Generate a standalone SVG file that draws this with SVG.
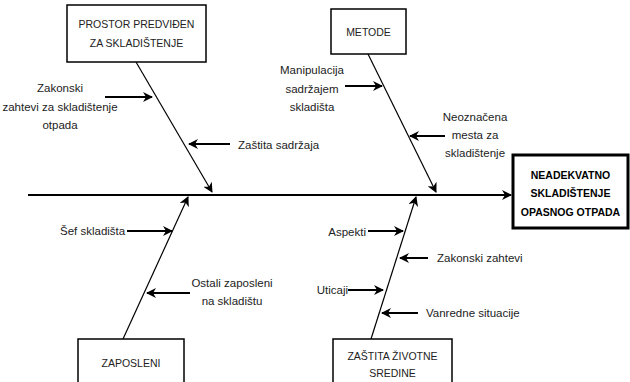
<svg xmlns="http://www.w3.org/2000/svg" width="630" height="382" viewBox="0 0 630 382">
  <style>
    .box { fill: #fff; stroke: #000; stroke-width: 1.5; }
    .effect { fill: #fff; stroke: #000; stroke-width: 3; }
    .t { font-family: "Liberation Sans", Arial, sans-serif; font-size: 11.5px; fill: #222; }
    .bt { font-family: "Liberation Sans", Arial, sans-serif; font-size: 10.5px; fill: #222; }
    .et { font-family: "Liberation Sans", Arial, sans-serif; font-size: 10.5px; font-weight: bold; fill: #000; }
    .mid { text-anchor: middle; }
    .spine { stroke: #000; stroke-width: 2; fill: none; }
    .bone { stroke: #000; stroke-width: 1.2; fill: none; }
    .cause { stroke: #000; stroke-width: 2; fill: none; }
  </style>
  <defs>
    <marker id="head" viewBox="0 0 10 10" refX="9" refY="5" markerWidth="10" markerHeight="10" markerUnits="userSpaceOnUse" orient="auto">
      <path d="M0,0 L10,5 L0,10 L3,5 z" fill="#000"/>
    </marker>
    <marker id="headS" viewBox="0 0 10 10" refX="9" refY="5" markerWidth="10" markerHeight="10" markerUnits="userSpaceOnUse" orient="auto">
      <path d="M0,0 L10,5 L0,10 L3,5 z" fill="#000"/>
    </marker>
  </defs>

  <rect width="630" height="382" fill="#fff"/>

  <!-- connectors: spine, main bones and cause arrows -->
  <g id="connectors">
    <line class="spine" x1="28" y1="195" x2="511" y2="195" marker-end="url(#head)"/>
    <line class="bone" x1="136" y1="62" x2="212" y2="192" marker-end="url(#head)"/>
    <line class="bone" x1="368" y1="54" x2="436" y2="192" marker-end="url(#head)"/>
    <line class="bone" x1="123" y1="339" x2="188" y2="197" marker-end="url(#head)"/>
    <line class="bone" x1="371" y1="339" x2="416" y2="197" marker-end="url(#head)"/>

    <line class="cause" x1="105" y1="97" x2="152" y2="97" marker-end="url(#headS)"/>
    <line class="cause" x1="230" y1="144" x2="189" y2="144" marker-end="url(#headS)"/>
    <line class="cause" x1="345" y1="86" x2="382" y2="86" marker-end="url(#headS)"/>
    <line class="cause" x1="445" y1="136" x2="410" y2="136" marker-end="url(#headS)"/>
    <line class="cause" x1="127" y1="231" x2="172" y2="231" marker-end="url(#headS)"/>
    <line class="cause" x1="190" y1="293" x2="147" y2="293" marker-end="url(#headS)"/>
    <line class="cause" x1="368" y1="231" x2="403" y2="231" marker-end="url(#headS)"/>
    <line class="cause" x1="428" y1="258" x2="400" y2="258" marker-end="url(#headS)"/>
    <line class="cause" x1="348" y1="290" x2="383" y2="290" marker-end="url(#headS)"/>
    <line class="cause" x1="418" y1="313" x2="382" y2="313" marker-end="url(#headS)"/>
  </g>

  <!-- category boxes -->
  <g id="prostor">
    <rect class="box" x="67" y="5" width="139" height="57"/>
    <text class="bt mid" x="136.5" y="28">PROSTOR PREDVIĐEN</text>
    <text class="bt mid" x="136.5" y="47">ZA SKLADIŠTENJE</text>
  </g>
  <g id="metode">
    <rect class="box" x="331" y="9" width="75" height="45"/>
    <text class="bt mid" x="368.5" y="36">METODE</text>
  </g>
  <g id="zaposleni">
    <rect class="box" x="78" y="339" width="106" height="50"/>
    <text class="bt mid" x="131" y="367">ZAPOSLENI</text>
  </g>
  <g id="zastita">
    <rect class="box" x="333" y="339" width="119" height="50"/>
    <text class="bt mid" x="392.5" y="360">ZAŠTITA ŽIVOTNE</text>
    <text class="bt mid" x="392.5" y="377">SREDINE</text>
  </g>

  <!-- effect -->
  <g id="effect">
    <rect class="effect" x="513" y="155" width="115" height="73"/>
    <text class="et mid" x="570.5" y="179">NEADEKVATNO</text>
    <text class="et mid" x="570.5" y="197">SKLADIŠTENJE</text>
    <text class="et mid" x="570.5" y="216">OPASNOG OTPADA</text>
  </g>

  <!-- causes -->
  <g id="cause-zakonski-otpada">
    <text class="t mid" x="60" y="92">Zakonski</text>
    <text class="t mid" x="60" y="111">zahtevi za skladištenje</text>
    <text class="t mid" x="60" y="129">otpada</text>
  </g>
  <g id="cause-zastita-sadrzaja">
    <text class="t" x="238" y="149">Zaštita sadržaja</text>
  </g>
  <g id="cause-manipulacija">
    <text class="t mid" x="312" y="74">Manipulacija</text>
    <text class="t mid" x="312" y="93">sadržajem</text>
    <text class="t mid" x="312" y="111">skladišta</text>
  </g>
  <g id="cause-neoznacena">
    <text class="t mid" x="475" y="121">Neoznačena</text>
    <text class="t mid" x="475" y="139">mesta za</text>
    <text class="t mid" x="475" y="157">skladištenje</text>
  </g>
  <g id="cause-sef">
    <text class="t" x="60" y="235">Šef skladišta</text>
  </g>
  <g id="cause-ostali">
    <text class="t mid" x="232" y="287">Ostali zaposleni</text>
    <text class="t mid" x="232" y="305">na skladištu</text>
  </g>
  <g id="cause-aspekti">
    <text class="t" x="366" y="236" text-anchor="end">Aspekti</text>
  </g>
  <g id="cause-zakonski-zahtevi">
    <text class="t" x="437" y="262">Zakonski zahtevi</text>
  </g>
  <g id="cause-uticaji">
    <text class="t" x="348" y="294" text-anchor="end">Uticaji</text>
  </g>
  <g id="cause-vanredne">
    <text class="t" x="426" y="317">Vanredne situacije</text>
  </g>
</svg>
